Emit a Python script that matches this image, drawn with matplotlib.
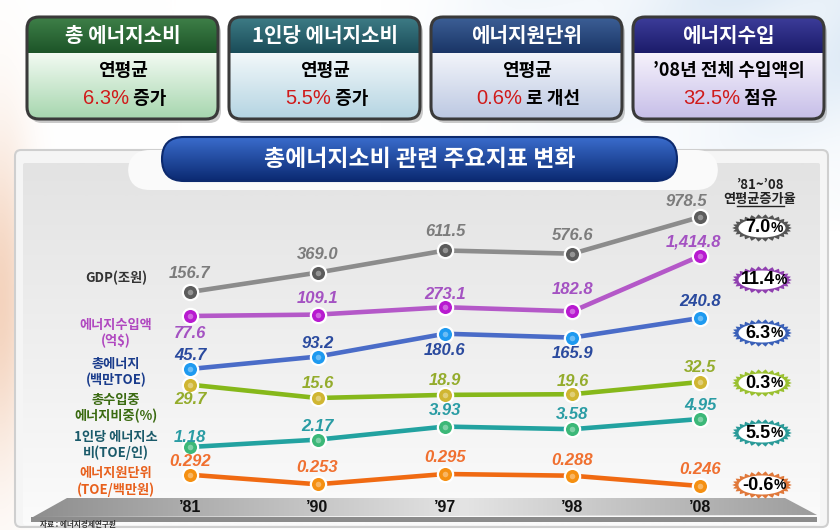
import numpy as np
import matplotlib
matplotlib.use("Agg")
import matplotlib.pyplot as plt
from matplotlib.patches import FancyBboxPatch, Polygon, Rectangle, Ellipse
import matplotlib.transforms as mtransforms
from matplotlib.colors import to_rgb

plt.rcParams['font.family'] = ['Noto Sans CJK KR', 'DejaVu Sans']

# ---------------- data ----------------
years = ["’81", "’90", "’97", "’98", "’08"]
gdp = [156.7, 369.0, 611.5, 576.6, 978.5]
energy_import = [77.6, 109.1, 273.1, 182.8, 1414.8]
total_energy = [45.7, 93.2, 180.6, 165.9, 240.8]
import_share = [29.7, 15.6, 18.9, 19.6, 32.5]
per_capita = [1.18, 2.17, 3.93, 3.58, 4.95]
intensity = [0.292, 0.253, 0.295, 0.288, 0.246]
growth_81_08 = [7.0, 11.4, 6.3, 0.3, 5.5, -0.6]
series_names = ["GDP(조원)", "에너지수입액\n(억$)", "총에너지\n(백만TOE)",
                "총수입중\n에너지비중(%)", "1인당 에너지소\n비(TOE/인)", "에너지원단위\n(TOE/백만원)"]

summary_titles = ["총 에너지소비", "1인당 에너지소비", "에너지원단위", "에너지수입"]
summary_line1 = ["연평균", "연평균", "연평균", "’08년 전체 수입액의"]
summary_values = ["6.3%", "5.5%", "0.6%", "32.5%"]
summary_suffix = [" 증가", " 증가", " 로 개선", " 점유"]
chart_title = "총에너지소비 관련 주요지표 변화"
growth_header = ["’81~’08", "연평균증가율"]
source_note = "자료 : 에너지경제연구원"

# ---------------- styles / layout ----------------
W, H = 840, 530
series = [gdp, energy_import, total_energy, import_share, per_capita, intensity]
fmts = ["{:.1f}", "{:,.1f}", "{:.1f}", "{:.1f}", "{:.2f}", "{:.3f}"]
bands = [(292, 217), (316, 256), (369, 318), (398, 382), (447, 419), (486, 474)]
x_left_px, x_right_px = 190, 700
line_colors = ["#8c8c8c", "#b458c8", "#4a6cc8", "#86b81a", "#22a2a0", "#f06a12"]
marker_colors = ["#5c5c5c", "#b81ad0", "#1e9af0", "#d0b632", "#3cb878", "#f59012"]
label_colors = ["#7c7c7c", "#a452c2", "#2a4a9e", "#94ac2c", "#2a9ca4", "#f07030"]
name_colors = ["#333333", "#b048c0", "#1a3c8c", "#3a6a10", "#1a5a6a", "#e8601c"]
badge_colors = ["#555555", "#9040b0", "#3a60b8", "#9ac030", "#2a9a98", "#e0783a"]
label_dy = [[-19, -18, -19, -18, -16],
            [17, -16, -13, -22, -14],
            [-13, -13, 17, 16, -16],
            [15, -15, -14, -13, -14],
            [-10, -13, -16, -15, -13],
            [-13, -17, -17, -15, -16]]
label_dx = [[0, 0, 0, 0, -14],
            [0, 0, 0, 0, -7],
            [0, 0, 0, 0, 0],
            [0, 0, 0, 0, 0],
            [0, 0, 0, 0, 0],
            [0, 0, 0, 0, 0]]
name_y = [278, 333.5, 372.5, 408.5, 445, 481.5]
badge_y = [228, 280, 333, 383, 433, 485]
badge_cx = 762

box_x = [27, 229, 431, 633]
box_w, box_y0, box_y1, header_bot = 191, 17, 119, 53
header_cols = [("#3f8048", "#1c5428"), ("#3e7c86", "#1a4c58"),
               ("#3c5f96", "#1a3566"), ("#3c3c9a", "#1c1c6a")]
body_cols = [("#f2faf2", "#a6d6ae"), ("#f2f8fa", "#b4d4e2"),
             ("#f2f4fa", "#bcc8e2"), ("#f6f2fc", "#c6bee8")]

fig = plt.figure(figsize=(8.4, 5.3), dpi=100)
bg = fig.add_axes([0, 0, 1, 1])
bg.set_xlim(0, W)
bg.set_ylim(H, 0)
bg.axis('off')
renderer = fig.canvas.get_renderer()

# background wash
yy, xx = np.mgrid[0:H:2, 0:W:2].astype(float)
img = np.ones(xx.shape + (3,))
b = np.clip((xx - 380) / 460, 0, 1) * np.clip(1 - yy / 230, 0, 1)
stripes = 0.5 + 0.5 * np.sin((xx + yy * 1.3) / 35)
tint = (b * (0.55 + 0.45 * stripes))[..., None] * 0.75
img = img * (1 - tint) + np.array([0.78, 0.86, 0.94]) * tint
p = (np.exp(-(xx / 30) ** 2) * np.exp(-((yy - 300) / 160) ** 2))[..., None] * 0.85
img = img * (1 - p) + np.array([0.95, 0.80, 0.70]) * p
bg.imshow(img, extent=(0, W, H, 0), aspect='auto', interpolation='bilinear', zorder=0)


def vgrad(x0, y0, x1, y1, c_top, c_bot, clip, z):
    c0, c1 = np.array(to_rgb(c_top)), np.array(to_rgb(c_bot))
    t = np.linspace(0, 1, 64)[:, None]
    arr = (c0 * (1 - t) + c1 * t)[:, None, :]
    im = bg.imshow(arr, extent=(x0, x1, y1, y0), aspect='auto',
                   interpolation='bilinear', zorder=z)
    im.set_clip_path(clip)


def mixed_line(cx, y, parts, z):
    texts = []
    for s, kw in parts:
        texts.append(bg.text(0, y, s, ha='left', va='center', zorder=z, **kw))
    widths = [t.get_window_extent(renderer).width for t in texts]
    x = cx - sum(widths) / 2
    for t, w in zip(texts, widths):
        t.set_x(x)
        x += w


# summary boxes
for i in range(4):
    x0 = box_x[i]
    h = box_y1 - box_y0
    sh = FancyBboxPatch((x0 + 3, box_y0 + 4), box_w, h, boxstyle="round,pad=0,rounding_size=12",
                        fc='#8a8a8a', ec='none', alpha=0.45, zorder=2)
    bg.add_patch(sh)
    patch = FancyBboxPatch((x0, box_y0), box_w, h, boxstyle="round,pad=0,rounding_size=12",
                           fc='none', ec='#3a3a3a', lw=2.2, zorder=5)
    bg.add_patch(patch)
    vgrad(x0, header_bot, x0 + box_w, box_y1, body_cols[i][0], body_cols[i][1], patch, 3)
    vgrad(x0, box_y0, x0 + box_w, header_bot, header_cols[i][0], header_cols[i][1], patch, 4)
    cx = x0 + box_w / 2
    bg.text(cx, 36, summary_titles[i], color='white', fontsize=14.5, fontweight='bold',
            ha='center', va='center', zorder=6)
    bg.text(cx, 71, summary_line1[i], color='black', fontsize=13, fontweight='bold',
            ha='center', va='center', zorder=6)
    mixed_line(cx + 2, 98, [(summary_values[i], dict(color='#d01a1a', fontsize=14.5,
                                                      family=['Liberation Sans', 'DejaVu Sans'])),
                            (summary_suffix[i], dict(color='black', fontsize=13, fontweight='bold'))], 6)

# chart panel
outer = FancyBboxPatch((15, 150), 813, 377, boxstyle="round,pad=0,rounding_size=6",
                       fc='#f5f5f5', ec='#cfcfcf', lw=1.5, zorder=1)
bg.add_patch(outer)
inner = FancyBboxPatch((23, 163), 797, 362, boxstyle="round,pad=0,rounding_size=2",
                       fc='none', ec='none', zorder=1.2)
bg.add_patch(inner)
vgrad(23, 163, 820, 525, '#e3e3e3', '#fbfbfb', inner, 1.1)
tab = FancyBboxPatch((128, 150), 590, 40, boxstyle="round,pad=0,rounding_size=22",
                     fc='#fafafa', ec='none', zorder=1.3)
bg.add_patch(tab)

# title pill
pill = FancyBboxPatch((162, 137), 515, 44, boxstyle="round,pad=0,rounding_size=22",
                      fc='none', ec='#0d2a6e', lw=1.5, zorder=8)
bg.add_patch(pill)
vgrad(162, 137, 677, 181, '#3a6ccc', '#0b2a72', pill, 7)
bg.text(420, 159, chart_title, color='white', fontsize=16.5, fontweight='bold',
        ha='center', va='center', zorder=9)

# floor
floor = Polygon([(67, 498), (785, 498), (817, 515), (33, 517)], closed=True,
                fc='none', ec='none', zorder=2)
bg.add_patch(floor)
xs = np.linspace(0, 1, 128)
stops = [0.0, 0.55, 1.0]
cols = np.array([to_rgb('#8e8e8e'), to_rgb('#e4e4e4'), to_rgb('#9c9c9c')])
harr = np.stack([np.interp(xs, stops, cols[:, k]) for k in range(3)], axis=-1)[None, :, :]
fim = bg.imshow(harr, extent=(30, 820, 518, 496), aspect='auto', interpolation='bilinear', zorder=2)
fim.set_clip_path(floor)
bg.add_patch(Rectangle((31, 517), 786, 5, fc='#8c8c8c', ec='none', zorder=2))
bg.text(40, 529.5, source_note, fontsize=5.5, fontweight='bold', ha='left', va='bottom',
        color='#333333', zorder=2)

# left series names
for nm, y, c in zip(series_names, name_y, name_colors):
    bg.text(116, y, nm, ha='center', va='center', fontsize=9.5, fontweight='bold',
            color=c, linespacing=1.15, zorder=3)

# growth header
bg.text(760, 185, growth_header[0], ha='center', va='center', fontsize=9.5,
        fontweight='bold', color='#222222', zorder=3)
bg.text(760, 199, growth_header[1], ha='center', va='center', fontsize=9.5,
        fontweight='bold', color='#222222', zorder=3)
bg.plot([737, 784], [206, 206], color='#222222', lw=1, zorder=3)

# badges
t = np.linspace(0, 2 * np.pi, 961)
n_teeth = 26
wave = np.abs(((t * n_teeth / (2 * np.pi)) % 1) - 0.5) * 2
for g, y, c in zip(growth_81_08, badge_y, badge_colors):
    gx = badge_cx + (26.5 + 3.2 * wave) * np.cos(t)
    gy = y + (10.5 + 3.2 * wave) * np.sin(t)
    bg.add_patch(Polygon(np.column_stack([gx, gy]), closed=True, fc=c, ec='none', zorder=4))
    bg.add_patch(Ellipse((badge_cx, y), 47, 19, fc='white', ec='none', zorder=5))
    mixed_line(badge_cx + 2, y, [(f"{g:.1f}", dict(fontsize=13, fontweight='bold', color='black',
                                                 family=['Liberation Sans', 'DejaVu Sans'])),
                                 ("%", dict(fontsize=10, fontweight='bold', color='black',
                                            family=['Liberation Sans', 'DejaVu Sans']))], 6)

# series
x = np.arange(len(years))
ax_ref = None
for k, vals in enumerate(series):
    ymin_px, ymax_px = bands[k]
    ax = fig.add_axes([x_left_px / W, 1 - ymin_px / H, (x_right_px - x_left_px) / W,
                       (ymin_px - ymax_px) / H])
    ax.set_xlim(0, len(years) - 1)
    ax.set_ylim(min(vals), max(vals))
    ax.axis('off')
    ax.patch.set_alpha(0)
    ax.plot(x, vals, color=line_colors[k], lw=3.3, solid_capstyle='round', clip_on=False, zorder=2)
    ax.plot(x, vals, 'o', ms=11, mfc=marker_colors[k], mec='white', mew=1.6, clip_on=False, zorder=3)
    ax.plot(x, vals, 'o', ms=4, mfc='white', mec='none', alpha=0.35, clip_on=False, zorder=4)
    for i, v in enumerate(vals):
        ax.annotate(fmts[k].format(v), (i, v),
                    xytext=(label_dx[k][i] * 0.72, -label_dy[k][i] * 0.72),
                    textcoords='offset points', ha='center', va='center',
                    fontsize=12, fontweight='bold', fontstyle='italic', color=label_colors[k],
                    family=['Liberation Sans', 'DejaVu Sans'], annotation_clip=False, zorder=5)
    ax_ref = ax

# year labels on floor
trans = mtransforms.blended_transform_factory(ax_ref.transData, bg.transData)
for i, yr in enumerate(years):
    bg.text(i, 508, yr, transform=trans, ha='center', va='center', fontsize=11.5,
            fontweight='bold', color='#111111', family=['Liberation Sans', 'DejaVu Sans'], zorder=3)

bg.set_xlim(0, W)
bg.set_ylim(H, 0)
fig.savefig('out.png', dpi=100)
